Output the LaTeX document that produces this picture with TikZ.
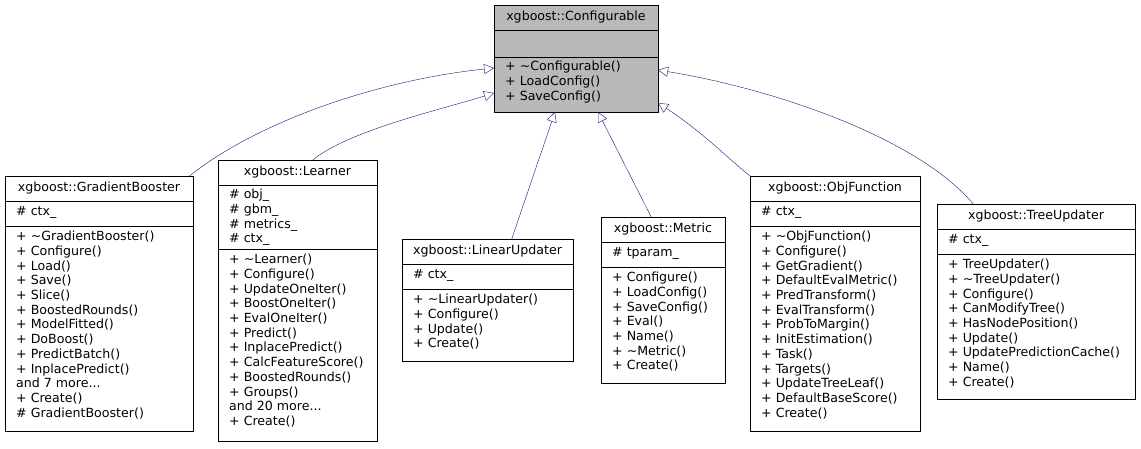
\documentclass[tikz,border=0pt]{standalone}
\usepackage{fontspec}
\setmainfont{DejaVu Sans}
\usetikzlibrary{arrows.meta,calc}
\definecolor{edge}{HTML}{191970}
\tikzset{
 box/.style={draw=black,anchor=north west,inner sep=0pt},
 txt/.style={anchor=north west,align=left,inner sep=0pt,font=\fontsize{12.6}{14.7}\selectfont},
 ttl/.style={anchor=center,inner sep=0pt,font=\fontsize{12.6}{14.7}\selectfont},
 inh/.style={draw=edge,-{Triangle[open,length=10pt,width=10pt]}}
}
\begin{document}
\begin{tikzpicture}[x=1pt,y=-1pt]
\useasboundingbox (0,0) rectangle (1141,448);
% Configurable
\fill[gray!55] (494,5) rectangle (658,112);
\node[box,minimum width=164pt,minimum height=107pt] (cfg) at (494,5) {};
\draw (494,30)--(658,30) (494,57)--(658,57);
\node[ttl] (cfgt) at (576,17.5) {xgboost::Configurable};
\node[txt] (cfgm) at (505,61) {+ \textasciitilde Configurable()\\+ LoadConfig()\\+ SaveConfig()};
% GradientBooster
\node[box,minimum width=188pt,minimum height=255pt] (gb) at (5,176) {};
\draw (5,201)--(193,201) (5,226)--(193,226);
\node[ttl] (gbt) at (99,188.5) {xgboost::GradientBooster};
\node[txt] (gba) at (16,206) {\# ctx\_};
\node[txt] (gbm) at (16,231) {+ \textasciitilde GradientBooster()\\+ Configure()\\+ Load()\\+ Save()\\+ Slice()\\+ BoostedRounds()\\+ ModelFitted()\\+ DoBoost()\\+ PredictBatch()\\+ InplacePredict()\\and 7 more...\\+ Create()\\\# GradientBooster()};
% Learner
\node[box,minimum width=159pt,minimum height=281pt] (ln) at (218,160) {};
\draw (218,185)--(377,185) (218,249)--(377,249);
\node[ttl] (lnt) at (297.5,172.5) {xgboost::Learner};
\node[txt] (lna) at (229,189) {\# obj\_\\\# gbm\_\\\# metrics\_\\\# ctx\_};
\node[txt] (lnm) at (229,254) {+ \textasciitilde Learner()\\+ Configure()\\+ UpdateOneIter()\\+ BoostOneIter()\\+ EvalOneIter()\\+ Predict()\\+ InplacePredict()\\+ CalcFeatureScore()\\+ BoostedRounds()\\+ Groups()\\and 20 more...\\+ Create()};
% LinearUpdater
\node[box,minimum width=171pt,minimum height=122pt] (lu) at (402,239) {};
\draw (402,264)--(573,264) (402,289)--(573,289);
\node[ttl] (lut) at (487.5,251.5) {xgboost::LinearUpdater};
\node[txt] (lua) at (413,269) {\# ctx\_};
\node[txt] (lum) at (413,294) {+ \textasciitilde LinearUpdater()\\+ Configure()\\+ Update()\\+ Create()};
% Metric
\node[box,minimum width=124pt,minimum height=166pt] (me) at (601,217) {};
\draw (601,242)--(725,242) (601,267)--(725,267);
\node[ttl] (met) at (663,229.5) {xgboost::Metric};
\node[txt] (mea) at (612,247) {\# tparam\_};
\node[txt] (mem) at (612,272) {+ Configure()\\+ LoadConfig()\\+ SaveConfig()\\+ Eval()\\+ Name()\\+ \textasciitilde Metric()\\+ Create()};
% ObjFunction
\node[box,minimum width=170pt,minimum height=255pt] (of) at (750,176) {};
\draw (750,201)--(920,201) (750,226)--(920,226);
\node[ttl] (oft) at (835,188.5) {xgboost::ObjFunction};
\node[txt] (ofa) at (761,206) {\# ctx\_};
\node[txt] (ofm) at (761,231) {+ \textasciitilde ObjFunction()\\+ Configure()\\+ GetGradient()\\+ DefaultEvalMetric()\\+ PredTransform()\\+ EvalTransform()\\+ ProbToMargin()\\+ InitEstimation()\\+ Task()\\+ Targets()\\+ UpdateTreeLeaf()\\+ DefaultBaseScore()\\+ Create()};
% TreeUpdater
\node[box,minimum width=198pt,minimum height=195pt] (tu) at (937,204) {};
\draw (937,229)--(1135,229) (937,254)--(1135,254);
\node[ttl] (tut) at (1036,216.5) {xgboost::TreeUpdater};
\node[txt] (tua) at (948,234) {\# ctx\_};
\node[txt] (tum) at (948,259) {+ TreeUpdater()\\+ \textasciitilde TreeUpdater()\\+ Configure()\\+ CanModifyTree()\\+ HasNodePosition()\\+ Update()\\+ UpdatePredictionCache()\\+ Name()\\+ Create()};
% edges
\coordinate (c1) at (494,68);
\coordinate (c2) at (494,93);
\coordinate (c3) at (555,112);
\coordinate (c4) at (598,112);
\coordinate (c5) at (658,103);
\coordinate (c6) at (658,70);
\draw[inh] (gb.north east) ++(-4,0) coordinate (s1) .. controls (260,120) and (380,80) .. (c1);
\draw[inh] (ln.north) ++(15,0) coordinate (s2) .. controls (350,130) and (440,110) .. (c2);
\draw[inh] (lu.north) ++(24,0) coordinate (s3) -- (c3);
\draw[inh] (me.north) ++(-12,0) coordinate (s4) -- (c4);
\draw[inh] (of.north west) -- ++(0,0) coordinate (s5) .. controls (730,160) and (700,130) .. (c5);
\draw[inh] (tu.north) ++(-63,0) coordinate (s6) .. controls (920,140) and (780,90) .. (c6);
\end{tikzpicture}
\end{document}
